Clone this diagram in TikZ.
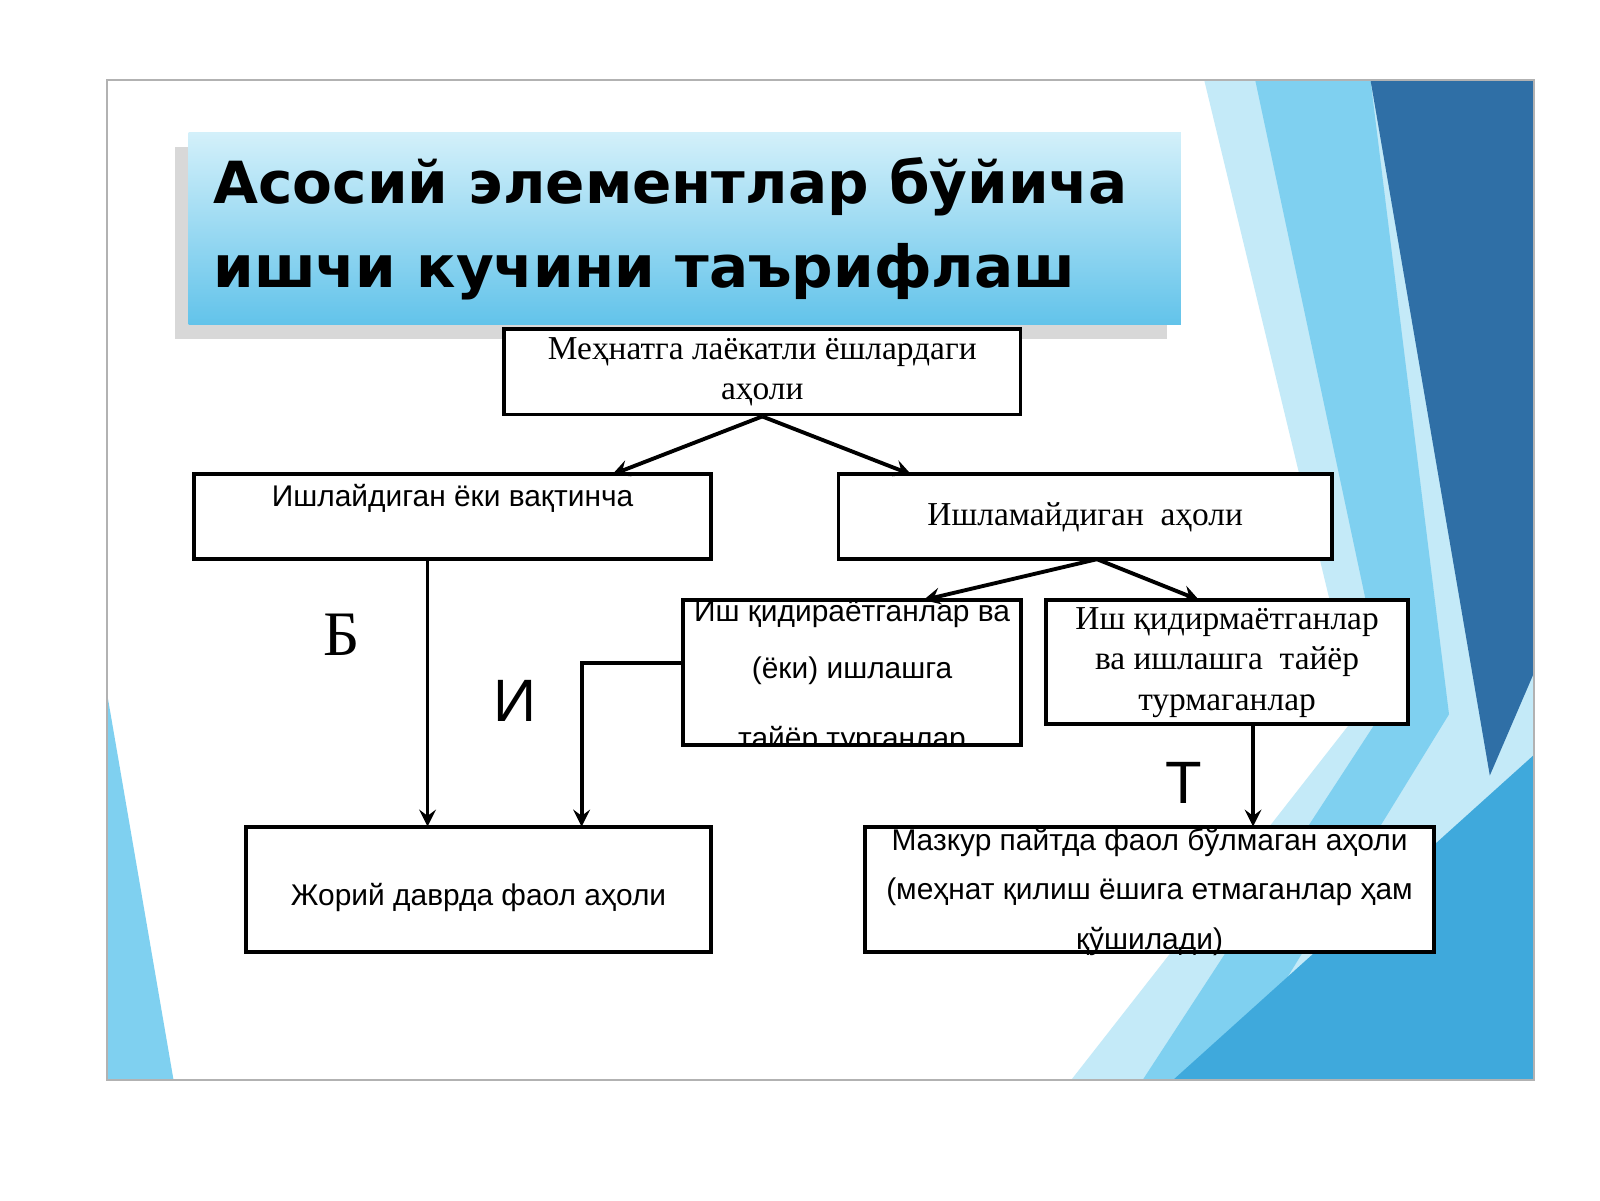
\documentclass[tikz,border=0pt]{standalone}
\usepackage{fontspec}
\setmainfont{Liberation Serif}
\newfontfamily\boxsans{Liberation Sans}
\newfontfamily\titlefont{DejaVu Sans}
\usetikzlibrary{shadows}
\definecolor{slidedark}{HTML}{2F6FA6}
\definecolor{slidemid}{HTML}{3FA9DC}
\definecolor{slidelight}{HTML}{7FD0F0}
\definecolor{slidepale}{HTML}{C4EAF8}
\definecolor{titletop}{HTML}{D3F0FA}
\definecolor{titlebot}{HTML}{62C3EA}
\tikzset{
  box/.style={draw, line width=1.1pt, fill=white, inner sep=0pt},
  conn/.style={-stealth, line width=1.1pt},
  serif/.style={font=\fontsize{9.5}{11.5}\selectfont, align=center},
  sans/.style={font=\boxsans\fontsize{8.5}{12}\selectfont, align=center},
  letter/.style={font=\boxsans\fontsize{17}{17}\selectfont}
}
\begin{document}
\begin{tikzpicture}[x=0.0102cm, y=-0.0102cm]
  \useasboundingbox (0,0) rectangle (1568,1176);
  % slide background
  \fill[white] (105,78) rectangle (1503,1058);
  \fill[slidepale] (1180,78) -- (1503,78) -- (1503,1058) -- (1050,1058) -- (1330,700) -- cycle;
  \fill[slidelight] (1230,78) -- (1343,78) -- (1420,700) -- (1200,1058) -- (1120,1058) -- (1360,690) -- cycle;
  \fill[slidemid] (1150,1058) -- (1503,740) -- (1503,1058) -- cycle;
  \fill[slidedark] (1343,78) -- (1503,78) -- (1503,660) -- (1460,760) -- cycle;
  \fill[slidelight] (105,680) -- (170,1058) -- (105,1058) -- cycle;
  \draw[gray!60, line width=0.6pt] (105,78) rectangle (1503,1058);
  % title
  \node[minimum width=9.91cm, minimum height=1.92cm, inner sep=0pt,
        top color=titletop, bottom color=titlebot,
        drop shadow={shadow xshift=-4pt, shadow yshift=-4pt, opacity=.3}]
        (title) at (671,224) {};
  \node[anchor=west, align=left, font=\titlefont\bfseries\fontsize{16.5}{24}\selectfont]
        (titletext) at (197,224) {Асосий элементлар бўйича\\ишчи кучини таърифлаш};
  % boxes
  \node[box, minimum width=5.16cm, minimum height=0.85cm] (able) at (747,364.5) {};
  \node[serif] (abletext) at (747,364.5) {Меҳнатга лаёкатли ёшлардаги\\аҳоли};
  \node[box, minimum width=5.17cm, minimum height=0.85cm] (work) at (443.5,506.5) {};
  \node[sans] (worktext) at (443.5,488) {Ишлайдиган ёки вақтинча};
  \node[box, minimum width=4.93cm, minimum height=0.85cm] (nowork) at (1063.5,506.5) {};
  \node[serif] (noworktext) at (1063.5,506.5) {Ишламайдиган\ \ аҳоли};
  \node[box, minimum width=3.37cm, minimum height=1.45cm] (seek) at (835,659) {};
  \node[sans] (seektext) at (835,630) {Иш қидираётганлар ва\\[4pt](ёки) ишлашга};
  \begin{scope}
    \clip (672,590) rectangle (998,728);
    \node[sans] (seekcut) at (835,726) {тайёр турганлар};
  \end{scope}
  \node[box, minimum width=3.62cm, minimum height=1.24cm] (noseek) at (1202.5,649) {};
  \node[serif] (noseektext) at (1202.5,649) {Иш қидирмаётганлар\\ва ишлашга\ \ тайёр\\турмаганлар};
  \node[box, minimum width=4.65cm, minimum height=1.25cm] (active) at (469,871.5) {};
  \node[sans] (activetext) at (469,880) {Жорий даврда фаол аҳоли};
  \node[box, minimum width=5.68cm, minimum height=1.25cm] (inactive) at (1126.5,871.5) {};
  \node[sans] (inactivetext) at (1126.5,874)
    {Мазкур пайтда фаол бўлмаган аҳоли\\[2pt](меҳнат қилиш ёшига етмаганлар ҳам\\[2pt]қўшилади)};
  % letters
  \node[font=\fontsize{18}{18}\selectfont] (lb) at (335,622) {Б};
  \node[letter] (li) at (505,687) {И};
  \node[letter] (lt) at (1160,767) {Т};
  % connectors
  \coordinate (seekcorner) at (570,650);
  \draw[conn] (able.south) -- (600,465);
  \draw[conn] (able.south) -- (893,465);
  \draw[conn] (1075,548) -- (905,588);
  \draw[conn] (1075,548) -- (1175,588);
  \draw[conn] (419,548) -- (419,810);
  \draw[conn] (seek.west |- seekcorner) -- (seekcorner) -- (570,810);
  \draw[conn] (1228,710) -- (1228,810);
\end{tikzpicture}
\end{document}
